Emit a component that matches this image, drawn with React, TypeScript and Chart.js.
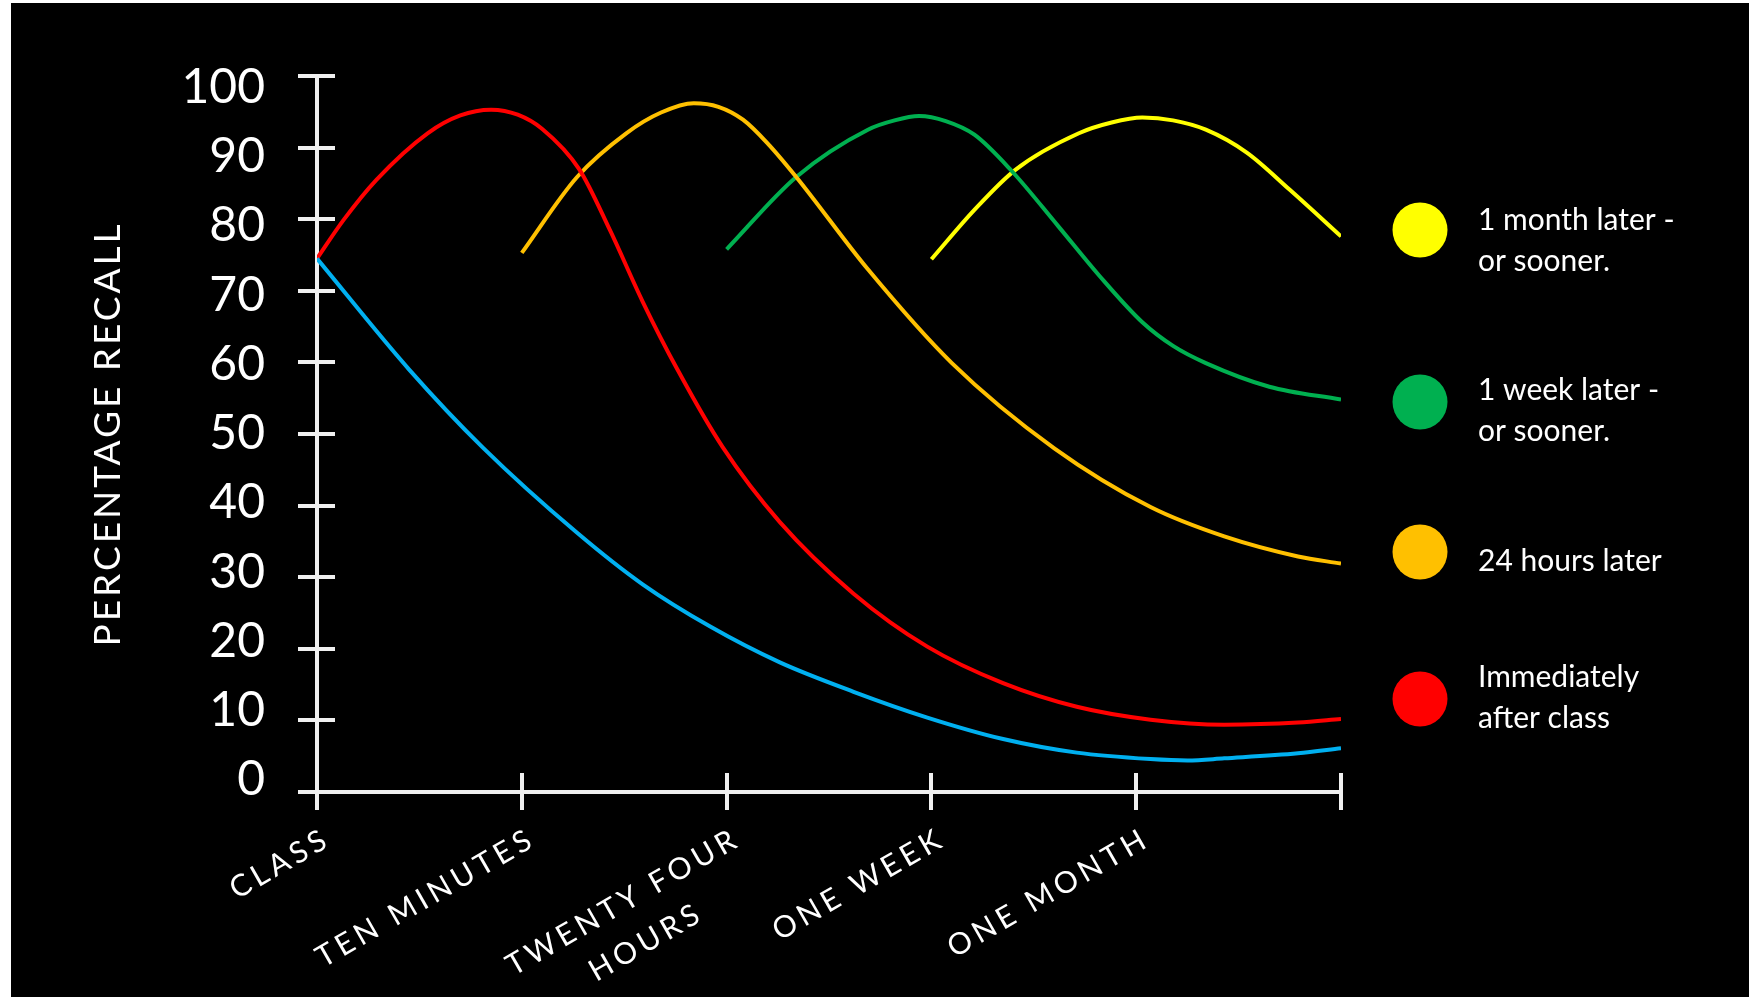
import React, { useEffect, useRef } from "react";
import { Chart, registerables } from "chart.js";

Chart.register(...registerables);

// ---------- data ----------
const CATEGORIES: (string | string[])[] = [
  "CLASS",
  "TEN MINUTES",
  ["TWENTY FOUR", "HOURS"],
  "ONE WEEK",
  "ONE MONTH",
  "",
];
const Y_TICKS = [0, 10, 20, 30, 40, 50, 60, 70, 80, 90, 100];
const Y_TITLE = "PERCENTAGE RECALL";

// no review (blue)
const noReviewX = [0, 0.45, 0.81, 1.27, 1.59, 1.92, 2.26, 2.62, 2.98, 3.35, 3.71, 4.07, 4.25, 4.43, 4.79, 5.0];
const noReviewY = [74.5, 59.0, 48.1, 36.2, 29.0, 23.1, 18.1, 14.0, 10.4, 7.4, 5.5, 4.6, 4.4, 4.7, 5.4, 6.1];

// immediately after class (red)
const immediateX = [0, 0.13, 0.29, 0.54, 0.7, 0.85, 0.98, 1.1, 1.28, 1.43, 1.59, 1.76, 1.98, 2.26, 2.62, 2.98, 3.35, 3.71, 4.07, 4.43, 4.79, 5.0];
const immediateY = [74.5, 79.9, 85.5, 92.0, 94.5, 95.3, 94.6, 92.6, 87.0, 78.5, 68.5, 59.0, 48.2, 37.7, 27.7, 20.3, 15.2, 11.9, 10.1, 9.4, 9.7, 10.2];

// 24 hours later (orange)
const hours24X = [1.0, 1.27, 1.51, 1.68, 1.84, 1.96, 2.08, 2.2, 2.34, 2.69, 3.1, 3.6, 4.07, 4.43, 4.79, 5.0];
const hours24Y = [75.3, 85.9, 92.0, 94.9, 96.2, 95.7, 93.9, 90.6, 85.9, 73.0, 59.9, 48.0, 39.8, 35.7, 32.9, 31.9];

// 1 week later (green)
const week1X = [2.0, 2.34, 2.69, 2.82, 2.94, 3.07, 3.21, 3.39, 3.62, 3.82, 4.03, 4.18, 4.34, 4.65, 5.0];
const week1Y = [75.8, 85.9, 92.5, 93.8, 94.4, 93.7, 91.8, 86.8, 79.0, 72.1, 65.6, 62.3, 59.9, 56.6, 54.8];

// 1 month later (yellow)
const month1X = [3.0, 3.21, 3.41, 3.72, 3.88, 4.03, 4.18, 4.34, 4.54, 4.75, 5.0];
const month1Y = [74.4, 81.3, 86.9, 92.0, 93.5, 94.2, 93.8, 92.5, 89.3, 84.1, 77.6];

const LEGEND_LABELS = [
  ["1 month later -", "or sooner."],
  ["1 week later -", "or sooner."],
  ["24 hours later"],
  ["Immediately", "after class"],
];
const LEGEND_COLORS = ["#ffff00", "#00b050", "#ffc000", "#ff0000"];

// ---------- styles ----------
const COLORS = {
  blue: "#00b0f0",
  red: "#ff0000",
  orange: "#ffc000",
  green: "#00b050",
  yellow: "#ffff00",
  axis: "#f0f0f0",
  text: "#ffffff",
};
const FONT = "Lato, 'Open Sans', sans-serif";
const LEGEND_CIRCLE_X = 1409;
const LEGEND_CIRCLE_Y = [227, 399, 549, 696];
const LEGEND_TEXT_X = 1467;
const LEGEND_TEXT_BASELINE = [227, 397, 568, 684];
const LEGEND_LINE_GAP = 41;

const pts = (xs: number[], ys: number[]) => xs.map((x, i) => ({ x, y: ys[i] }));

const decorPlugin = {
  id: "decor",
  afterDraw(chart: any) {
    const { ctx } = chart;
    const x = chart.scales.x;
    const y = chart.scales.y;
    const x0 = x.getPixelForValue(0);
    const y0 = y.getPixelForValue(0);
    ctx.save();
    // crossing tick marks
    ctx.strokeStyle = COLORS.axis;
    ctx.lineWidth = 4;
    ctx.lineCap = "butt";
    Y_TICKS.forEach((v) => {
      const py = Math.round(y.getPixelForValue(v));
      ctx.beginPath();
      ctx.moveTo(x0 - 19, py);
      ctx.lineTo(x0 + 18, py);
      ctx.stroke();
    });
    CATEGORIES.forEach((_, i) => {
      const px = Math.round(x.getPixelForValue(i));
      ctx.beginPath();
      ctx.moveTo(px, y0 - 19);
      ctx.lineTo(px, y0 + 18);
      ctx.stroke();
    });

    // rotated category labels
    ctx.fillStyle = COLORS.text;
    ctx.font = `30px ${FONT}`;
    (ctx as any).letterSpacing = "4.5px";
    const ang = -Math.PI / 6;
    const ux = Math.cos(ang), uy = Math.sin(ang);
    const nx = -uy, ny = ux;
    const LH = 46;
    CATEGORIES.forEach((lab, i) => {
      const lines = Array.isArray(lab) ? lab : [lab];
      if (!lines[0]) return;
      const ax = x.getPixelForValue(i) + 11;
      const ay = y0 + 44;
      const W = Math.max(...lines.map((l) => ctx.measureText(l).width));
      lines.forEach((l, k) => {
        const cx = ax - (ux * W) / 2 + nx * k * LH;
        const cy = ay - (uy * W) / 2 + ny * k * LH;
        ctx.save();
        ctx.translate(cx, cy);
        ctx.rotate(ang);
        ctx.textAlign = "center";
        ctx.textBaseline = "middle";
        ctx.fillText(l, 0, 0);
        ctx.restore();
      });
    });

    // y axis title
    ctx.font = `37px ${FONT}`;
    (ctx as any).letterSpacing = "3px";
    ctx.save();
    ctx.translate(97, 431);
    ctx.rotate(-Math.PI / 2);
    ctx.textAlign = "center";
    ctx.textBaseline = "middle";
    ctx.fillText(Y_TITLE, 0, 0);
    ctx.restore();

    // legend
    (ctx as any).letterSpacing = "0px";
    ctx.font = `30px ${FONT}`;
    ctx.textAlign = "left";
    ctx.textBaseline = "alphabetic";
    LEGEND_LABELS.forEach((lines, i) => {
      ctx.fillStyle = LEGEND_COLORS[i];
      ctx.beginPath();
      ctx.arc(LEGEND_CIRCLE_X, LEGEND_CIRCLE_Y[i], 27.5, 0, Math.PI * 2);
      ctx.fill();
      ctx.fillStyle = COLORS.text;
      lines.forEach((l, k) => {
        ctx.fillText(l, LEGEND_TEXT_X, LEGEND_TEXT_BASELINE[i] + k * LEGEND_LINE_GAP);
      });
    });
    ctx.restore();
  },
};

export default function App() {
  const canvasRef = useRef<HTMLCanvasElement | null>(null);

  useEffect(() => {
    if (!canvasRef.current) return;
    const mk = (label: string, xs: number[], ys: number[], color: string) => ({
      label,
      data: pts(xs, ys),
      borderColor: color,
      backgroundColor: color,
      borderWidth: 4,
      pointRadius: 0,
      fill: false,
      cubicInterpolationMode: "monotone" as const,
    });
    const chart = new Chart(canvasRef.current, {
      type: "line",
      data: {
        datasets: [
          mk("No review", noReviewX, noReviewY, COLORS.blue),
          mk("Immediately after class", immediateX, immediateY, COLORS.red),
          mk("24 hours later", hours24X, hours24Y, COLORS.orange),
          mk("1 week later", week1X, week1Y, COLORS.green),
          mk("1 month later", month1X, month1Y, COLORS.yellow),
        ],
      },
      options: {
        animation: false,
        responsive: true,
        maintainAspectRatio: false,
        devicePixelRatio: 1,
        layout: { padding: { top: 73, right: 408, bottom: 0, left: 0 } },
        plugins: { legend: { display: false }, tooltip: { enabled: false } },
        scales: {
          x: {
            type: "linear",
            min: 0,
            max: 5,
            ticks: { display: false, stepSize: 1 },
            grid: { display: false },
            border: { display: true, color: COLORS.axis, width: 4 },
            afterFit: (s: any) => {
              s.height = 205;
            },
          },
          y: {
            type: "linear",
            position: "left",
            weight: 0,
            min: 0,
            max: 100,
            ticks: { display: false, stepSize: 10 },
            grid: { display: false },
            border: { display: true, color: COLORS.axis, width: 4 },
            afterFit: (s: any) => {
              s.width = 0;
            },
          },
          yLabels: {
            type: "linear",
            position: "left",
            weight: 1,
            min: -1.733,
            max: 101.66,
            afterBuildTicks: (s: any) => {
              s.ticks = Y_TICKS.map((v) => ({ value: v }));
            },
            ticks: {
              color: COLORS.text,
              font: { family: FONT, size: 48 },
              padding: 44,
            },
            grid: { display: false },
            border: { display: false },
            afterFit: (s: any) => {
              s.width = 306;
            },
          },
        },
      } as any,
      plugins: [decorPlugin],
    });
    return () => chart.destroy();
  }, []);

  return (
    <div
      style={{
        position: "fixed",
        left: 11,
        top: 3,
        width: 1738,
        height: 994,
        background: "#000",
      }}
    >
      <canvas ref={canvasRef} style={{ width: "100%", height: "100%" }} />
    </div>
  );
}
